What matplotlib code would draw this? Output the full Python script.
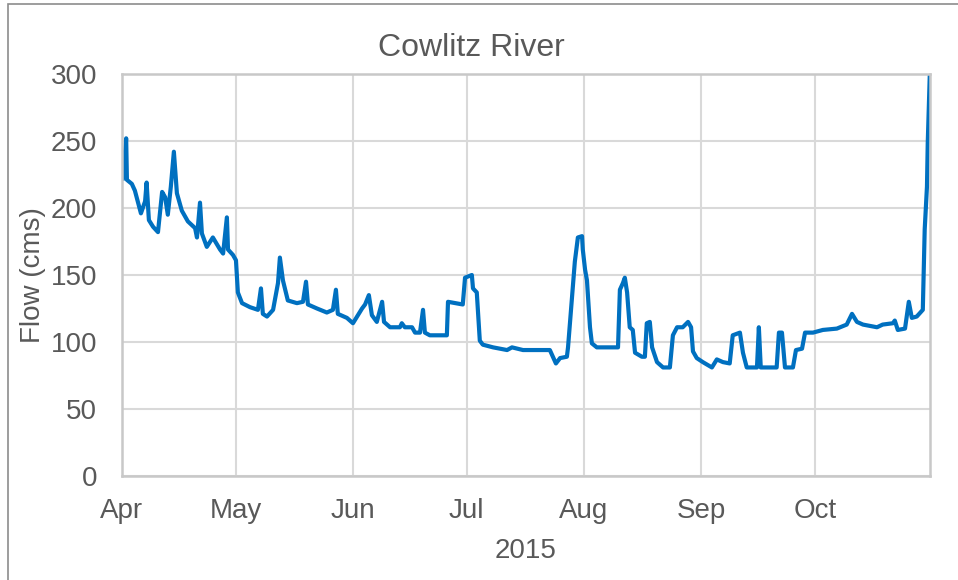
import numpy as np
import matplotlib
matplotlib.use('Agg')
import matplotlib.pyplot as plt
import matplotlib.dates as mdates
from matplotlib.patches import Rectangle

plt.rcParams['font.family'] = ['Liberation Sans', 'DejaVu Sans']

# days after 2015-04-01, flow in cms
days = [0.2, 1.1, 1.3, 2.6, 3.4, 5.0, 6.1, 6.5, 7.1, 8.2, 9.5, 10.6, 11.4, 12.1, 12.9,
        13.7, 14.5, 15.8, 17.4, 19.3, 19.8, 20.6, 21.1, 22.4, 24.0, 25.9, 26.7, 27.7,
        28.0, 29.3, 30.1, 30.6, 31.7, 33.8, 35.9, 36.7, 37.2, 38.3, 39.9, 41.2, 41.7,
        42.5, 43.8, 46.2, 47.8, 48.6, 49.1, 51.5, 54.1, 55.7, 56.5, 57.0, 59.4, 61.0,
        62.1, 63.4, 64.2, 65.2, 66.0, 67.3, 68.7, 69.2, 70.8, 73.4, 73.9, 74.7, 76.6,
        77.4, 78.7, 79.5, 80.0, 81.3, 85.8, 86.1, 90.0, 90.6, 92.4, 92.7, 93.7, 94.5,
        95.3, 98.0, 101.7, 103.0, 105.9, 113.0, 113.8, 114.6, 115.7, 117.5, 117.8,
        118.6, 119.1, 119.6, 120.4, 121.5, 121.7, 122.3, 122.8, 123.6, 124.1, 125.4,
        131.0, 131.5, 132.3, 132.8, 133.4, 134.1, 134.9, 135.5, 137.3, 138.1, 138.6,
        139.4, 140.0, 141.3, 142.9, 144.7, 145.5, 146.6, 148.1, 149.5, 150.3, 150.8,
        151.8, 153.4, 155.8, 157.1, 158.7, 160.5, 161.3, 163.2, 164.0, 165.0, 167.7,
        168.2, 168.7, 172.9, 173.5, 174.3, 175.1, 177.2, 178.0, 179.6, 180.4, 182.5,
        185.1, 188.8, 191.4, 192.8, 194.1, 195.7, 199.4, 200.9, 203.6, 204.1, 204.9,
        206.8, 207.8, 208.6, 209.9, 211.5, 212.0, 212.6, 212.8, 213.4]
flow = [222, 252, 221, 218, 213, 196, 205, 219, 191, 186, 182, 212, 208, 195, 216,
        242, 211, 198, 190, 185, 178, 204, 181, 171, 178, 169, 166, 193,
        169, 165, 161, 137, 129, 126, 124, 140, 121, 119, 124, 144, 163,
        146, 131, 129, 130, 145, 128, 125, 122, 124, 139, 121, 118, 114,
        119, 125, 128, 135, 120, 115, 130, 115, 111, 111, 114, 111, 111,
        107, 107, 124, 107, 105, 105, 130, 128, 148, 150, 140, 137, 101,
        98, 96, 94, 96, 94, 94, 89, 84, 88, 89, 96,
        124, 141, 160, 178, 179, 169, 154, 146, 111, 99, 96,
        96, 139, 144, 148, 137, 111, 109, 92, 89, 89, 114,
        115, 96, 85, 81, 81, 105, 111, 111, 115, 111, 93,
        88, 85, 81, 87, 85, 84, 105, 107, 92, 81, 81,
        111, 81, 81, 107, 107, 81, 81, 94, 95, 107, 107,
        109, 110, 113, 121, 115, 113, 111, 113, 114, 116, 109,
        110, 130, 118, 119, 124, 184, 216, 248, 305]

month_ticks = ['2015-04-01', '2015-05-01', '2015-06-01', '2015-07-01',
               '2015-08-01', '2015-09-01', '2015-10-01']
y_ticks = [0, 50, 100, 150, 200, 250, 300]

start = np.datetime64('2015-04-01T00:00')
dates = start + (np.array(days) * 24 * 60).astype('timedelta64[m]')

txt = '#595959'
fig = plt.figure(figsize=(9.58, 5.80), dpi=100)
ax = fig.add_axes([122 / 958, 1 - 476 / 580, 808 / 958, 402 / 580])

ax.plot(dates, flow, color='#0070C0', linewidth=3.0, solid_joinstyle='round')

ax.set_ylim(0, 300)
ax.set_xlim(start, start + np.timedelta64(int(213.4 * 24 * 60), 'm'))
ax.set_yticks(y_ticks)
ax.set_xticks([np.datetime64(d) for d in month_ticks])
ax.xaxis.set_major_formatter(mdates.DateFormatter('%b'))

ax.grid(True, color='#D9D9D9', linewidth=1.5)
ax.set_axisbelow(True)
for s in ax.spines.values():
    s.set_color('#C8C8C8')
    s.set_linewidth(1.8)
ax.tick_params(length=0, labelsize=20, labelcolor=txt)
ax.tick_params(axis='y', pad=18)
ax.tick_params(axis='x', pad=16)

ax.set_ylabel('Flow (cms)', fontsize=20, color=txt, labelpad=3)
ax.set_xlabel('2015', fontsize=20, color=txt, labelpad=10)
fig.text(471 / 958, 1 - 48 / 580, 'Cowlitz River', fontsize=23, color=txt,
         ha='center', va='center')

# outer chart border (cut off on the right and bottom)
fig.patches.append(Rectangle((8 / 958, -0.1), 1.2, 1 - 4 / 580 + 0.1,
                             transform=fig.transFigure, fill=False,
                             edgecolor='#8C8C8C', linewidth=1.2))

fig.savefig('out.png', dpi=100)
